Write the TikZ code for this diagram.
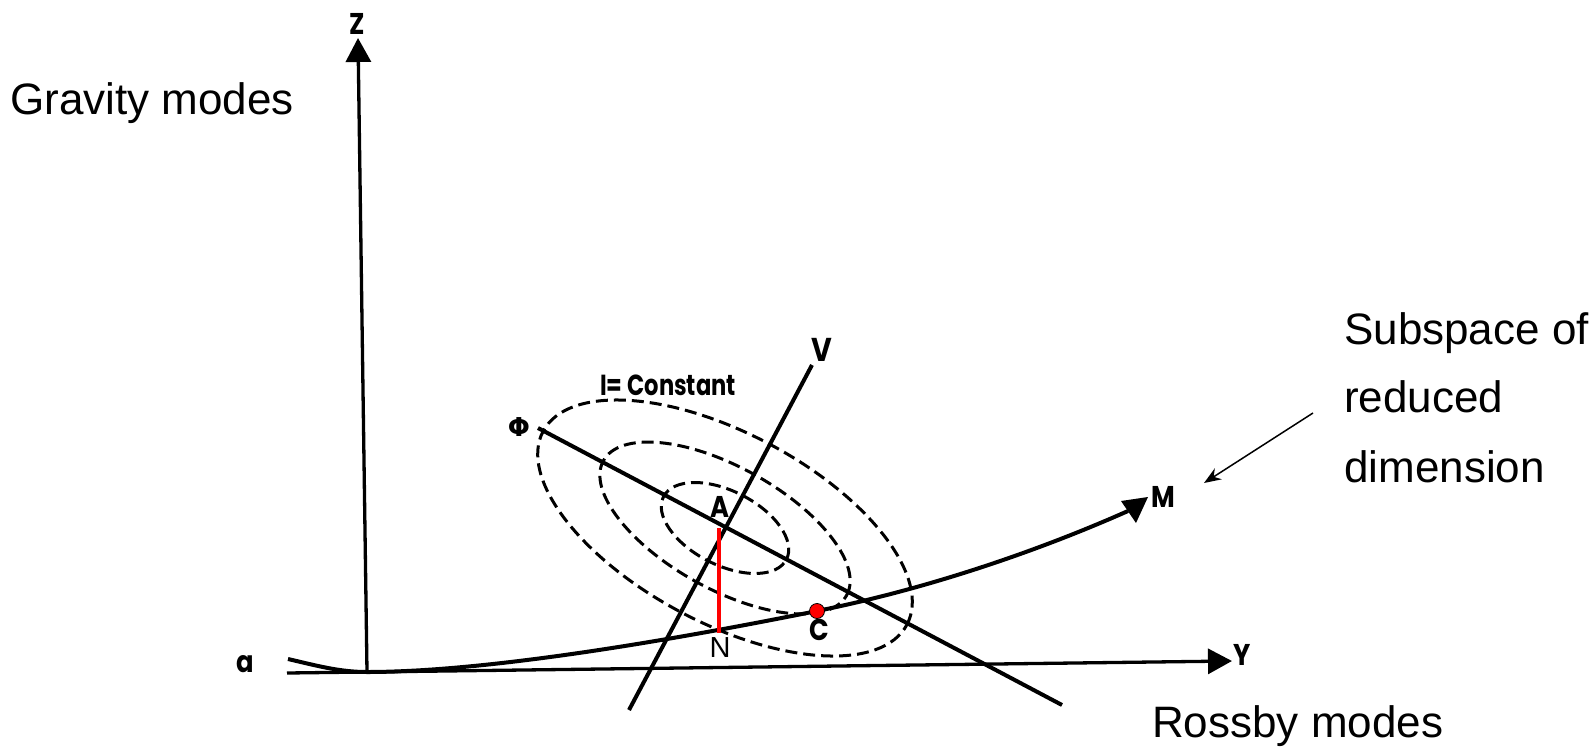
\documentclass[tikz,border=0pt]{standalone}
\usepackage{fontspec}
\setmainfont{Liberation Sans}
\newfontfamily\geo{Poppins}[FakeStretch=0.86]
\newfontfamily\geoc{Poppins}[FakeStretch=0.78]
\newfontfamily\dvs{DejaVu Sans}
\usetikzlibrary{arrows.meta}
\begin{document}
\begin{tikzpicture}[x=1pt,y=-1pt,
  ax/.style={line width=3.3pt, -{Triangle[length=24pt,width=25pt]}},
  ln/.style={line width=4pt},
  lev/.style={dash pattern=on 12pt off 6pt, line width=3pt},
  lbl/.style={font=\geo\bfseries\fontsize{30}{32}\selectfont, inner sep=0},
  big/.style={font=\fontsize{44}{50}\selectfont, inner sep=0, anchor=base west}]
\useasboundingbox (0,0) rectangle (1596,747);
\coordinate (A) at (725,528);
\coordinate (Z0) at (367,672); \coordinate (Z1) at (358,38);
\coordinate (Y0) at (287,673); \coordinate (Y1) at (1232,661);
\coordinate (P0) at (538,428); \coordinate (P1) at (1062,705);
\coordinate (V0) at (629,710); \coordinate (V1) at (812,365);
\coordinate (Ntop) at (719,528); \coordinate (Nbot) at (719,633);
\coordinate (Ms) at (288,659); \coordinate (Mt) at (367,672);
\coordinate (Mc) at (817,611); \coordinate (Me) at (1128,511);
% axes
\draw[ax] (Z0) -- (Z1);
\draw[ax] (Y0) -- (Y1);
% level curves
\draw[lev, rotate around={-27:(A)}] (A) ellipse [x radius=69pt, y radius=37pt];
\draw[lev, rotate around={-29:(A)}] (A) ellipse [x radius=139pt, y radius=61pt];
\draw[lev, rotate around={-28:(A)}] (A) ellipse [x radius=206pt, y radius=95pt];
% lines
\draw[ln] (P0) -- (P1);
\draw[ln] (V0) -- (V1);
\draw[ln] (Ms) .. controls (318,666) and (340,672) .. (Mt)
  .. controls (500,672) and (707,633) .. (Mc)
  .. controls (927,589) and (1038,551) .. (Me);
\fill (1121,501) -- (1148,497) -- (1136,523) -- cycle;
% red
\draw[red, line width=4pt] (Ntop) -- (Nbot);
\node[circle, fill=red, draw=black, line width=0.8pt, minimum size=15pt, inner sep=0] (Cdot) at (Mc) {};
% labels
\node[lbl, font=\geo\bfseries\fontsize{30}{32}\selectfont] (zl) at (357,24) {Z};
\node[lbl] (yl) at (1242,655) {Y};
\node[lbl] (ml) at (1163,497) {M};
\node[lbl, font=\geo\bfseries\fontsize{33}{34}\selectfont] (vl) at (822,350) {V};
\node[lbl] (al) at (245,664) {a};
\node[inner sep=0, font=\dvs\bfseries\fontsize{26}{30}\selectfont] (phil) at (519,427) {Φ};
\node[lbl, font=\geo\bfseries\fontsize{30}{32}\selectfont] (Al) at (720,507) {A};
\node[lbl, font=\geo\bfseries\fontsize{30}{32}\selectfont] (Cl) at (819,630) {C};
\node[inner sep=0, font=\fontsize{29}{32}\selectfont] (Nl) at (720,648) {N};
\node[lbl, font=\geoc\bfseries\fontsize{29}{32}\selectfont] (il) at (668,385) {I= Constant};
\node[big] (grav) at (10,114) {Gravity modes};
\node[big] (sub1) at (1344,344) {Subspace of};
\node[big] (sub2) at (1344,412) {reduced};
\node[big] (sub3) at (1344,482) {dimension};
\node[big] (ross) at (1152,737) {Rossby modes};
\coordinate (arrS) at (1313,413);
\coordinate (arrE) at (1204,483);
\draw[line width=1.5pt, -{Stealth[length=17pt,width=13pt]}] (arrS) -- (arrE);
\end{tikzpicture}
\end{document}
